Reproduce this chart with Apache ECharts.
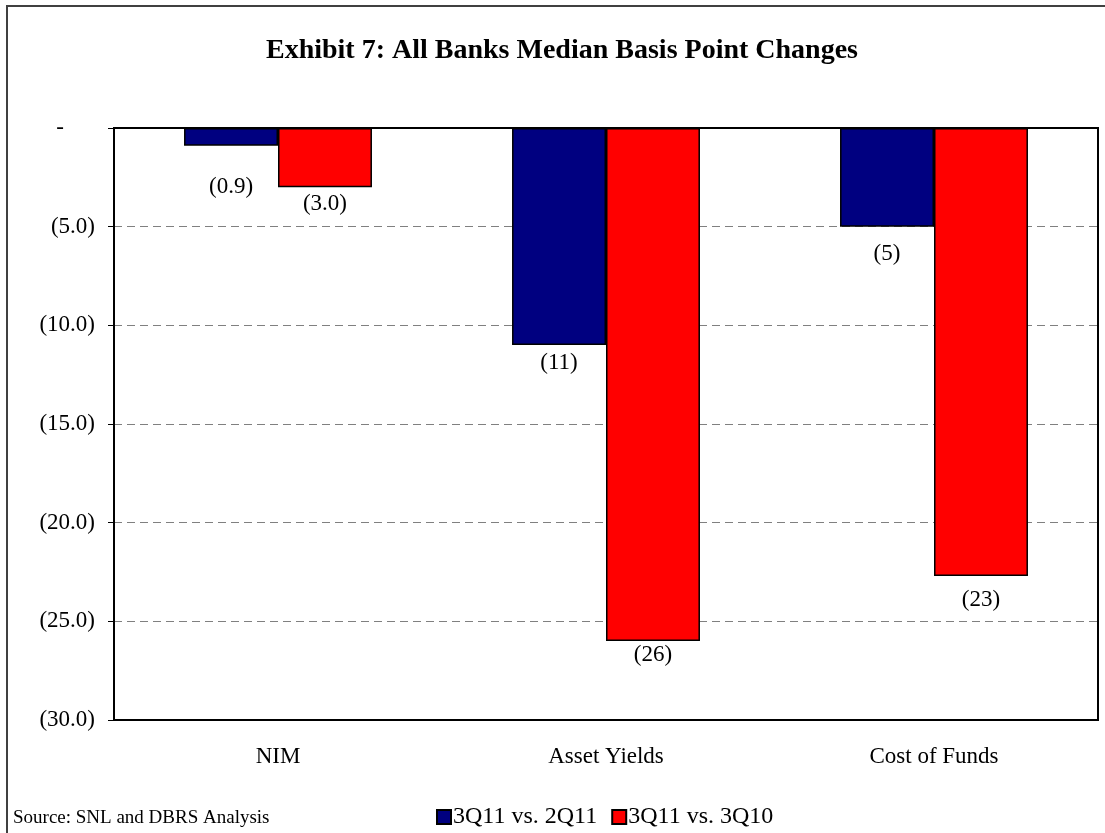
<!DOCTYPE html>
<html>
<head>
<meta charset="utf-8">
<script src="https://cdn.jsdelivr.net/npm/echarts@6/dist/echarts.min.js"></script>
<style>
html,body{margin:0;padding:0;background:#fff;}
#chart{width:1105px;height:833px;}
</style>
</head>
<body>
<div id="chart"></div>
<script>
// ---- data ----
const categories = ['NIM', 'Asset Yields', 'Cost of Funds'];
const seriesNames = ['3Q11 vs. 2Q11', '3Q11 vs. 3Q10'];
const values2Q11 = [-0.9, -11, -5];
const values3Q10 = [-3.0, -26, -22.7];
const labels2Q11 = ['(0.9)', '(11)', '(5)'];
const labels3Q10 = ['(3.0)', '(26)', '(23)'];
const yTicks = [0, -5, -10, -15, -20, -25, -30];

// label nudges (style only)
const nudge2Q11 = [28, 4, 14];
const nudge3Q10 = [3, 0, 11];

const FONT = '"Liberation Serif", "Times New Roman", serif';

function buildData(vals, labels, nudges) {
  return vals.map((v, i) => ({
    value: v,
    label: { formatter: labels[i], offset: [0, nudges[i]] }
  }));
}

const chart = echarts.init(document.getElementById('chart'), null, { renderer: 'canvas' });

const option = {
  backgroundColor: '#fff',
  animation: false,
  graphic: [
    { type: 'rect', shape: { x: 7, y: 6, width: 1130, height: 860 },
      style: { fill: 'none', stroke: '#404040', lineWidth: 2 }, z: 0 },
    { type: 'text', x: 562, y: 51,
      style: { text: 'Exhibit 7: All Banks Median Basis Point Changes', font: 'bold 28px ' + FONT,
               fill: '#000', textAlign: 'center', textVerticalAlign: 'middle' } },
    { type: 'text', x: 13, y: 818,
      style: { text: 'Source: SNL and DBRS Analysis', font: '19px ' + FONT,
               fill: '#000', textAlign: 'left', textVerticalAlign: 'middle' } }
  ],
  legend: {
    data: seriesNames,
    left: 436,
    top: 805,
    padding: 0,
    icon: 'rect',
    itemWidth: 14,
    itemHeight: 14,
    itemGap: 14,
    textStyle: { fontFamily: FONT, fontSize: 24, color: '#000', padding: [0, 0, 0, -3] }
  },
  grid: {
    left: 114, right: 7, top: 128, bottom: 113,
    show: true, borderColor: '#000', borderWidth: 2, backgroundColor: 'transparent'
  },
  xAxis: {
    type: 'category',
    data: categories,
    axisLine: { show: true, lineStyle: { color: '#000', width: 2 } },
    axisTick: { show: false },
    axisLabel: { fontFamily: FONT, fontSize: 23, color: '#000', margin: 25 },
    splitLine: { show: false }
  },
  yAxis: {
    type: 'value',
    min: Math.min(...yTicks),
    max: Math.max(...yTicks),
    interval: 5,
    axisLine: { show: true, lineStyle: { color: '#000', width: 2 } },
    axisTick: { show: true, inside: false, length: 6, lineStyle: { color: '#000', width: 1 } },
    axisLabel: {
      fontFamily: FONT, fontSize: 23, color: '#000', margin: 19,
      formatter: function (v) {
        if (v === 0) return '{d|-}';
        return '(' + Math.abs(v).toFixed(1) + ')';
      },
      rich: { d: { fontFamily: FONT, fontSize: 23, color: '#000', padding: [0, 31, 0, 0] } }
    },
    splitLine: { show: true, showMinLine: false, showMaxLine: false,
                 lineStyle: { color: '#808080', width: 1, type: [8, 5] } }
  },
  series: [
    {
      name: seriesNames[0],
      type: 'bar',
      data: buildData(values2Q11, labels2Q11, nudge2Q11),
      barGap: '0%',
      barCategoryGap: '42.7%',
      itemStyle: { color: '#000080', borderColor: '#000', borderWidth: 1.5 },
      label: { show: true, position: 'outside', distance: 2, fontFamily: FONT, fontSize: 23, color: '#000' }
    },
    {
      name: seriesNames[1],
      type: 'bar',
      data: buildData(values3Q10, labels3Q10, nudge3Q10),
      barGap: '0%',
      barCategoryGap: '42.7%',
      itemStyle: { color: '#ff0000', borderColor: '#000', borderWidth: 1.5 },
      label: { show: true, position: 'outside', distance: 2, fontFamily: FONT, fontSize: 23, color: '#000' }
    }
  ]
};

chart.setOption(option);
</script>
</body>
</html>
